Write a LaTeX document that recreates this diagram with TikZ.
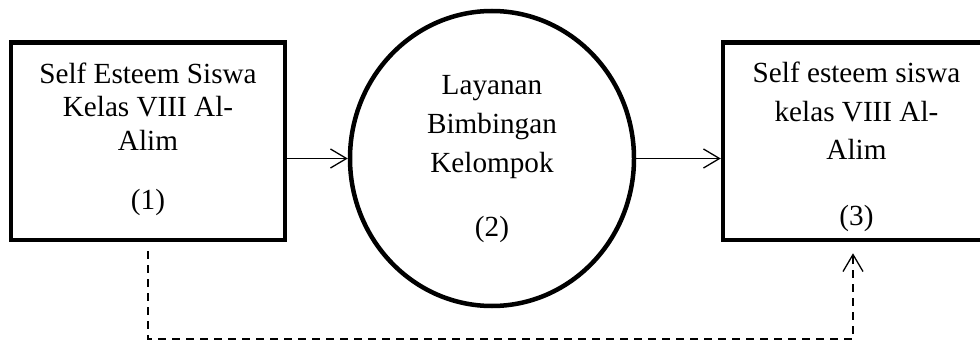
\documentclass[tikz,border=0pt]{standalone}
\usepackage{fontspec}
\setmainfont{Liberation Serif}
\usetikzlibrary{shapes.geometric,arrows.meta}

\tikzset{
  thickbox/.style={draw=black, line width=4.5pt, rectangle, inner sep=0pt},
  thickring/.style={draw=black, line width=4.5pt, ellipse, inner sep=0pt},
  txt/.style={anchor=base, inner sep=0pt, font=\fontsize{29.2}{33}\selectfont},
  flow/.style={line width=1.3pt, -{Straight Barb[length=16pt,width=19pt,line width=1.3pt]}},
  feedback/.style={line width=1.1pt, dash pattern=on 8pt off 6pt,
    -{Straight Barb[length=17pt,width=20pt,line width=1.3pt]}}
}

\begin{document}
\begin{tikzpicture}[x=1pt, y=-1pt]
  \useasboundingbox (0,0) rectangle (980,342);
  \clip (0,0) rectangle (980,342);

  % the three stages
  \node[thickbox, minimum width=274pt, minimum height=197.5pt] (b1) at (148,141.25) {};
  \node[thickring, minimum width=284pt, minimum height=295pt] (c) at (492,158.5) {};
  \node[thickbox, minimum width=267pt, minimum height=197.5pt] (b3) at (856.5,141.25) {};

  % stage 1 text
  \node[txt] (t1a) at (148,84) {Self Esteem Siswa};
  \node[txt] (t1b) at (148,117) {Kelas VIII Al-};
  \node[txt] (t1c) at (148,150) {Alim};
  \node[txt] (t1d) at (148,209) {(1)};

  % stage 2 text
  \node[txt] (t2a) at (492,95) {Layanan};
  \node[txt] (t2b) at (492,133.5) {Bimbingan};
  \node[txt] (t2c) at (492,172) {Kelompok};
  \node[txt] (t2d) at (492,236) {(2)};

  % stage 3 text
  \node[txt] (t3a) at (856.5,83) {Self esteem siswa};
  \node[txt] (t3b) at (856.5,121.5) {kelas VIII Al-};
  \node[txt] (t3c) at (856.5,160) {Alim};
  \node[txt] (t3d) at (856.5,225) {(3)};

  % forward flow
  \draw[flow] (b1.east |- c.west) -- (c.west);
  \draw[flow] (c.east) -- (b3.west |- c.east);

  % feedback path below
  \coordinate (fs) at ([yshift=-9pt]b1.south);
  \coordinate (fc) at (853,339);
  \coordinate (fe) at ([xshift=-3.5pt,yshift=-11pt]b3.south);
  \draw[feedback] (fs) |- (fc) -- (fe);
\end{tikzpicture}
\end{document}
